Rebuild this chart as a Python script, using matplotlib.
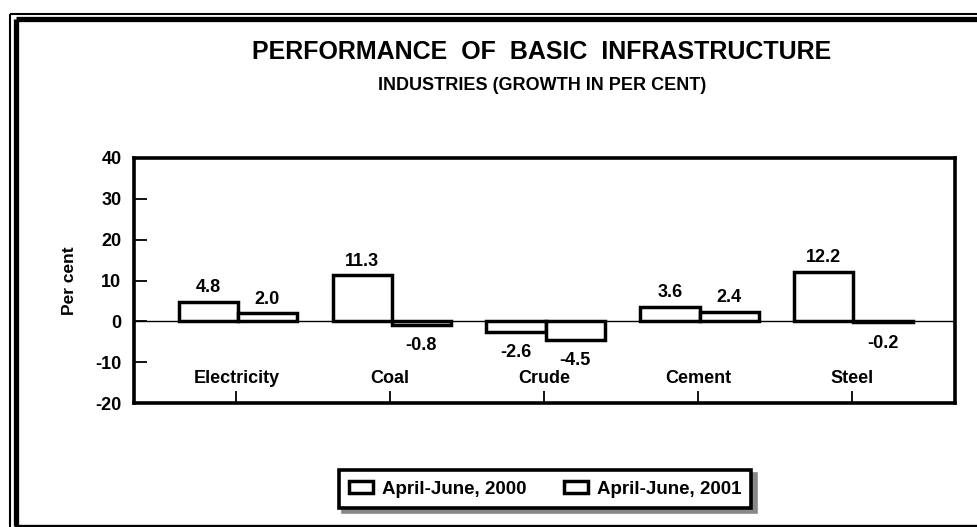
import numpy as np
import matplotlib.pyplot as plt
from matplotlib.lines import Line2D

plt.rcParams['font.family'] = ['Liberation Sans', 'DejaVu Sans']
plt.rcParams['font.weight'] = 'bold'
plt.rcParams['axes.unicode_minus'] = False

categories = ['Electricity', 'Coal', 'Crude', 'Cement', 'Steel']
growth_2000 = [4.8, 11.3, -2.6, 3.6, 12.2]
growth_2001 = [2.0, -0.8, -4.5, 2.4, -0.2]
series_names = ['April-June, 2000', 'April-June, 2001']

W, H = 977, 527
fig = plt.figure(figsize=(W / 100, H / 100), dpi=100)

# -- outer frame (double line on top and left, thin line at bottom) --
def px_line(x0, y0, x1, y1, lw):
    fig.add_artist(Line2D([x0 / W, x1 / W], [1 - y0 / H, 1 - y1 / H],
                          transform=fig.transFigure, color='black', lw=lw,
                          solid_capstyle='butt'))

px_line(10, 13.7, W, 13.7, 1.5)
px_line(10, 13.7, 10, H, 1.5)
px_line(16.3, 19.3, W, 19.3, 3.8)
px_line(16.3, 19.3, 16.3, 525.5, 3.8)
px_line(14.5, 525.5, W, 525.5, 1.7)

ax = fig.add_axes([134 / W, 1 - 403 / H, (955 - 134) / W, (403 - 158) / H])

x = np.arange(len(categories))
width = 0.385
b1 = ax.bar(x - width / 2 + 0.01, growth_2000, width, facecolor='white',
            edgecolor='black', linewidth=2.5, label=series_names[0])
b2 = ax.bar(x + width / 2 + 0.01, growth_2001, width, facecolor='white',
            edgecolor='black', linewidth=2.5, label=series_names[1])

for bars, vals in ((b1, growth_2000), (b2, growth_2001)):
    for rect, v in zip(bars, vals):
        cx = rect.get_x() + rect.get_width() / 2
        if v >= 0:
            ax.annotate(f'{v:.1f}', (cx, v), xytext=(0, 4), textcoords='offset points',
                        ha='center', va='bottom', fontsize=13, fontweight='bold')
        else:
            ax.annotate(f'{v:.1f}', (cx, v), xytext=(0, -9), textcoords='offset points',
                        ha='center', va='top', fontsize=13, fontweight='bold')

ax.axhline(0, color='black', lw=1)

ax.set_ylim(-20, 40)
ax.set_yticks(range(-20, 41, 10))
ax.set_xlim(-0.665, 4.67)
ax.set_xticks(x)
ax.set_xticklabels(categories)
ax.tick_params(axis='x', direction='in', length=9, width=1.3, pad=-24, labelsize=13)
ax.tick_params(axis='y', direction='in', length=9, width=1.3, pad=9, labelsize=13)
for lab in ax.get_xticklabels() + ax.get_yticklabels():
    lab.set_fontweight('bold')
for sp in ax.spines.values():
    sp.set_linewidth(2.6)

ax.set_ylabel('Per cent', fontsize=12.5, fontweight='bold', labelpad=13)

fig.text(542 / W, 1 - 52 / H, 'PERFORMANCE  OF  BASIC  INFRASTRUCTURE',
         ha='center', va='center', fontsize=18, fontweight='bold')
fig.text(542 / W, 1 - 85 / H, 'INDUSTRIES (GROWTH IN PER CENT)',
         ha='center', va='center', fontsize=13, fontweight='bold')

leg = fig.legend(handles=[b1, b2], loc='center', bbox_to_anchor=(545 / W, 1 - 489 / H),
                 ncol=2, fontsize=13.5, frameon=True, fancybox=False, edgecolor='black',
                 framealpha=1, handlelength=1.3, handleheight=0.55, handletextpad=0.45,
                 columnspacing=2.0, borderpad=0.55, borderaxespad=0,
                 shadow={'color': '#888888', 'alpha': 1, 'ox': 3, 'oy': -3})
leg.get_frame().set_linewidth(2.6)
for t in leg.get_texts():
    t.set_fontweight('bold')

fig.savefig('out.png', dpi=100)
